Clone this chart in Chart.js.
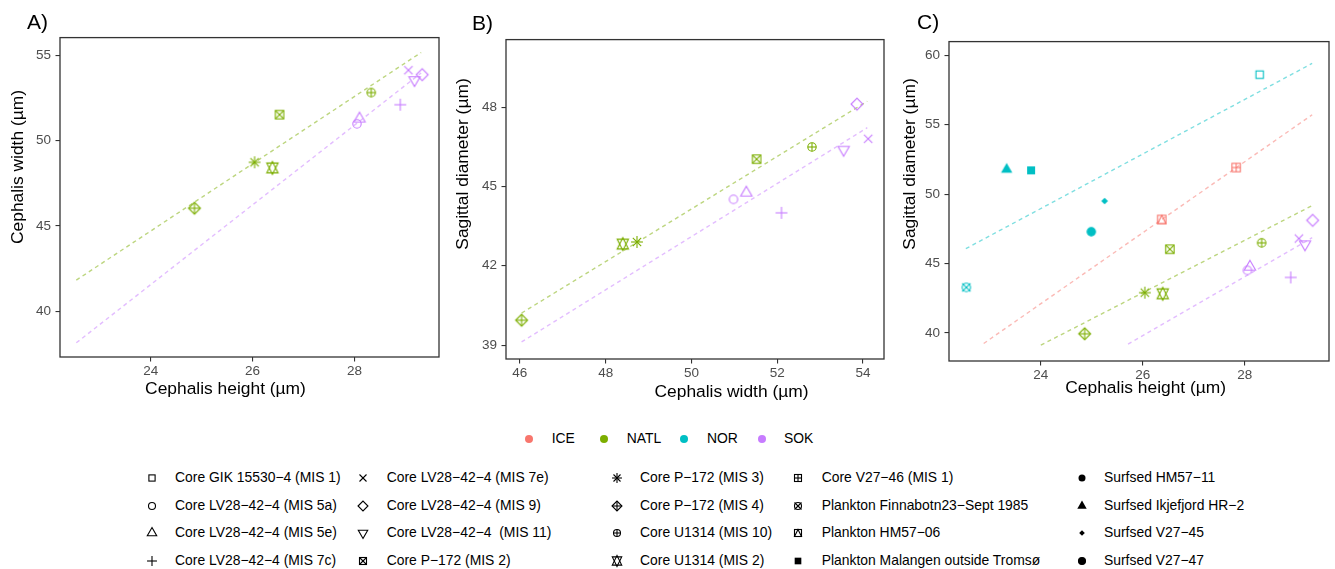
<!DOCTYPE html>
<html>
<head>
<meta charset="utf-8">
<script src="https://cdn.jsdelivr.net/npm/chart.js@4.4.1/dist/chart.umd.min.js"></script>
<style>
html, body { margin: 0; padding: 0; background: #fff; overflow: hidden; }
#fig { position: relative; width: 1335px; height: 569px; font-family: 'Liberation Sans', Arial, Helvetica, sans-serif; }
#fig canvas { position: absolute; }
.lbl { position: absolute; white-space: pre; color: #000; line-height: 1; }
.tag { font-size: 21px; transform: translateY(-50%); }
.xt { font-size: 17.4px; transform: translate(-50%, -50%); }
.yt { font-size: 17.4px; transform: translate(-50%, -50%) rotate(-90deg); }
.leg { font-size: 13.9px; transform: translateY(-50%); }
</style>
</head>
<body>
<div id="fig">
  <canvas id="panelA"></canvas>
  <canvas id="panelB"></canvas>
  <canvas id="panelC"></canvas>
</div>
<script>
// groups (colour) and samples (shape)
var groupNames = ['ICE', 'NATL', 'NOR', 'SOK'];
var groupColours = ['#F8766D', '#7CAE00', '#00BFC4', '#C77CFF'];

var sampleNames = [
    'Core GIK 15530\u22124 (MIS 1)', 'Core LV28\u221242\u22124 (MIS 5a)', 'Core LV28\u221242\u22124 (MIS 5e)',
    'Core LV28\u221242\u22124 (MIS 7c)', 'Core LV28\u221242\u22124 (MIS 7e)', 'Core LV28\u221242\u22124 (MIS 9)',
    'Core LV28\u221242\u22124  (MIS 11)', 'Core P\u2212172 (MIS 2)', 'Core P\u2212172 (MIS 3)',
    'Core P\u2212172 (MIS 4)', 'Core U1314 (MIS 10)', 'Core U1314 (MIS 2)',
    'Core V27\u221246 (MIS 1)', 'Plankton Finnabotn23\u2212Sept 1985', 'Plankton HM57\u221206',
    'Plankton Malangen outside Troms\u00f8', 'Surfsed HM57\u221211', 'Surfsed Ikjefjord HR\u22122',
    'Surfsed V27\u221245', 'Surfsed V27\u221247'
];
var sampleShapes = [0, 1, 2, 3, 4, 5, 6, 7, 8, 9, 10, 11, 12, 13, 14, 15, 16, 17, 18, 19];

// one entry per measured sample
var obsSample = [8, 9, 10, 11, 7, 1, 2, 3, 4, 5, 6, 12, 14, 0, 13, 15, 17, 18, 19];
var obsGroup = ['NATL', 'NATL', 'NATL', 'NATL', 'NATL', 'SOK', 'SOK', 'SOK', 'SOK', 'SOK', 'SOK',
    'ICE', 'ICE', 'NOR', 'NOR', 'NOR', 'NOR', 'NOR', 'NOR'];
var cephHeight = [26.04, 24.86, 28.33, 26.39, 26.53, 28.05, 28.10, 28.90, 29.06, 29.33, 29.18,
    27.83, 26.37, 28.29, 22.54, 23.81, 23.33, 25.25, 24.99];
var cephWidth = [48.73, 46.04, 52.81, 48.40, 51.52, 50.98, 51.28, 52.10, 54.12, 53.86, 53.55,
    null, null, null, null, null, null, null, null];
var sagDiam = [42.90, 39.94, 46.49, 42.82, 46.03, 44.51, 44.76, 44.00, 46.80, 48.11, 46.39,
    51.91, 48.17, 58.60, 43.28, 51.71, 51.77, 49.50, 47.29];

// fitted lines: group, x0, y0, x1, y1
var trendA = [['NATL', 22.54, 41.83, 29.31, 55.16], ['SOK', 22.54, 38.16, 29.31, 53.96]];
var trendB = [['NATL', 46.04, 40.21, 54.10, 48.22], ['SOK', 46.04, 39.12, 54.10, 47.22]];
var trendC = [['NOR', 22.53, 46.07, 29.32, 59.41], ['ICE', 22.88, 39.24, 29.32, 55.71],
    ['NATL', 24.00, 39.12, 29.32, 49.17], ['SOK', 25.71, 39.19, 29.32, 46.86]];

var ticksAx = [24, 26, 28], ticksAy = [40, 45, 50, 55];
var ticksBx = [46, 48, 50, 52, 54], ticksBy = [39, 42, 45, 48];
var ticksCx = [24, 26, 28], ticksCy = [40, 45, 50, 55, 60];

var FONT = "'Liberation Sans', Arial, Helvetica, sans-serif";

function drawShape(ctx, shape, x, y, r, col, lw) {
    var SQRC = 0.886227, TRC0 = 1.555120, TRC1 = 1.346774, TRC2 = 0.777560, S2 = Math.SQRT2;
    ctx.save();
    ctx.strokeStyle = col;
    ctx.fillStyle = col;
    ctx.lineWidth = lw;
    function line(x0, y0, x1, y1) { ctx.beginPath(); ctx.moveTo(x0, y0); ctx.lineTo(x1, y1); ctx.stroke(); }
    function poly(pts, fill) {
        ctx.beginPath();
        pts.forEach(function (p, i) { if (i) ctx.lineTo(p[0], p[1]); else ctx.moveTo(p[0], p[1]); });
        ctx.closePath();
        if (fill) ctx.fill(); else ctx.stroke();
    }
    function circ(rad, fill) { ctx.beginPath(); ctx.arc(x, y, rad, 0, 2 * Math.PI); if (fill) ctx.fill(); else ctx.stroke(); }
    function sq(h, fill) { if (fill) ctx.fillRect(x - h, y - h, 2 * h, 2 * h); else ctx.strokeRect(x - h, y - h, 2 * h, 2 * h); }
    function tri(up, fill) {
        var rr = TRC0 * r, yc = TRC2 * r, xc = TRC1 * r, s = up ? 1 : -1;
        poly([[x, y - s * rr], [x + xc, y + s * yc], [x - xc, y + s * yc]], fill);
    }
    function plus(h) { line(x - h, y, x + h, y); line(x, y - h, x, y + h); }
    function cross(h) { line(x - h, y - h, x + h, y + h); line(x - h, y + h, x + h, y - h); }
    function diamond(h, fill) { poly([[x - h, y], [x, y - h], [x + h, y], [x, y + h]], fill); }

    switch (shape) {
        case 0: sq(r * SQRC); break;
        case 1: circ(r); break;
        case 2: tri(true); break;
        case 3: plus(S2 * r); break;
        case 4: cross(r); break;
        case 5: diamond(S2 * r); break;
        case 6: tri(false); break;
        case 7: sq(r); cross(r); break;
        case 8: cross(r); plus(S2 * r); break;
        case 9: diamond(S2 * r); plus(S2 * r); break;
        case 10: circ(r); plus(r); break;
        case 11: {
            var rr = TRC0 * r, yc = 0.5 * (TRC2 * r + rr), xc = TRC1 * r;
            poly([[x, y - rr], [x + xc, y + yc], [x - xc, y + yc]]);
            poly([[x, y + rr], [x + xc, y - yc], [x - xc, y - yc]]);
            break;
        }
        case 12: sq(r); plus(r); break;
        case 13: circ(r); cross(r); break;
        case 14: sq(r); poly([[x, y - r], [x + r, y + r], [x - r, y + r]]); break;
        case 15: sq(r * 0.95, true); break;
        case 16: circ(r, true); break;
        case 17: tri(true, true); break;
        case 18: diamond(r * 0.8, true); break;
        case 19: circ(r, true); circ(r); break;
    }
    ctx.restore();
}

function makeMarker(shape, col, r) {
    var c = document.createElement('canvas');
    c.width = 24;
    c.height = 24;
    drawShape(c.getContext('2d'), shape, 12, 12, r, col, 1.1);
    return c;
}

function fade(hex, a) {
    var n = parseInt(hex.slice(1), 16);
    return 'rgba(' + (n >> 16) + ',' + ((n >> 8) & 255) + ',' + (n & 255) + ',' + a + ')';
}

var panelBox = {
    id: 'panelBox',
    afterDatasetsDraw: function (chart) {
        var a = chart.chartArea, c = chart.ctx;
        c.save();
        c.strokeStyle = '#333333';
        c.lineWidth = 1.3;
        c.strokeRect(a.left, a.top, a.right - a.left, a.bottom - a.top);
        c.restore();
    }
};

function axis(min, max, ticks, isX) {
    return {
        type: 'linear',
        position: isX ? 'bottom' : 'left',
        min: min,
        max: max,
        afterBuildTicks: function (s) { s.ticks = ticks.map(function (v) { return { value: v }; }); },
        afterFit: function (s) { if (isX) s.height = 35; else s.width = 50; },
        grid: { display: true, drawOnChartArea: false, drawTicks: true, tickLength: 4.5, color: '#333333', lineWidth: 1.1 },
        border: { display: false },
        ticks: { color: '#4D4D4D', font: { family: FONT, size: 13.5 }, padding: isX ? 1.5 : 4.5, maxRotation: 0, autoSkip: false }
    };
}

function buildPanel(id, box, xr, yr, xTicks, yTicks, xs, ys, trends) {
    var padL = 50, padT = 10, padR = 2, padB = 35;
    var cv = document.getElementById(id);
    cv.style.left = (box[0] - padL) + 'px';
    cv.style.top = (box[1] - padT) + 'px';
    cv.width = box[2] - box[0] + padL + padR;
    cv.height = box[3] - box[1] + padT + padB;

    var datasets = [];
    groupNames.forEach(function (g, gi) {
        var pts = [], styles = [];
        for (var i = 0; i < obsGroup.length; i++) {
            if (obsGroup[i] !== g || xs[i] == null || ys[i] == null) continue;
            pts.push({ x: xs[i], y: ys[i] });
            styles.push(makeMarker(sampleShapes[obsSample[i]], groupColours[gi], 4.2));
        }
        if (pts.length) {
            datasets.push({ label: g, data: pts, pointStyle: styles, pointRadius: 5 });
        }
    });
    trends.forEach(function (t) {
        var col = groupColours[groupNames.indexOf(t[0])];
        datasets.push({
            label: t[0] + ' fit',
            data: [{ x: t[1], y: t[2] }, { x: t[3], y: t[4] }],
            showLine: true,
            borderColor: fade(col, 0.5),
            borderWidth: 1.4,
            borderDash: [4, 3.5],
            pointRadius: 0
        });
    });

    return new Chart(cv, {
        type: 'scatter',
        data: { datasets: datasets },
        plugins: [panelBox],
        options: {
            responsive: false,
            animation: false,
            devicePixelRatio: 1,
            layout: { padding: { left: 0, top: padT, right: padR, bottom: 0 } },
            plugins: { legend: { display: false }, tooltip: { enabled: false } },
            scales: { x: axis(xr[0], xr[1], xTicks, true), y: axis(yr[0], yr[1], yTicks, false) }
        }
    });
}

buildPanel('panelA', [60, 35, 443, 357], [22.22, 29.66], [37.33, 56.03], ticksAx, ticksAy, cephHeight, cephWidth, trendA);
buildPanel('panelB', [506, 37, 888, 359], [45.677, 54.49], [38.475, 50.55], ticksBx, ticksBy, cephWidth, sagDiam, trendB);
buildPanel('panelC', [949, 39, 1333, 361], [22.2, 29.65], [37.98, 60.98], ticksCx, ticksCy, cephHeight, sagDiam, trendC);

// text: tags and axis titles
var fig = document.getElementById('fig');
function addText(txt, cls, x, y) {
    var d = document.createElement('div');
    d.className = 'lbl ' + cls;
    d.textContent = txt;
    d.style.left = x + 'px';
    d.style.top = y + 'px';
    fig.appendChild(d);
    return d;
}
addText('A)', 'tag', 27, 21);
addText('B)', 'tag', 472, 22);
addText('C)', 'tag', 917, 21);
addText('Cephalis height (\u00b5m)', 'xt', 225.5, 389);
addText('Cephalis width (\u00b5m)', 'xt', 731.5, 392);
addText('Cephalis height (\u00b5m)', 'xt', 1145.7, 388);
addText('Cephalis width (\u00b5m)', 'yt', 17.5, 166.5);
addText('Sagittal diameter (\u00b5m)', 'yt', 463.3, 164);
addText('Sagittal diameter (\u00b5m)', 'yt', 910, 164);

// colour legend
var colDotX = [529, 604, 684, 762], colTextX = [551.7, 626.7, 707, 784], colRowY = 439;
groupNames.forEach(function (g, i) {
    var c = document.createElement('canvas');
    c.width = 20; c.height = 20;
    c.style.left = (colDotX[i] - 10) + 'px';
    c.style.top = (colRowY - 10) + 'px';
    var ctx = c.getContext('2d');
    ctx.fillStyle = groupColours[i];
    ctx.beginPath(); ctx.arc(10, 10, 4, 0, 2 * Math.PI); ctx.fill();
    fig.appendChild(c);
    addText(g, 'leg', colTextX[i], colRowY);
});

// shape legend, 4 rows filled column by column
var legSymX = [152.3, 363.3, 617.3, 797.7, 1081.7];
var legTextX = [175, 386.7, 640, 821.7, 1104];
var legRowY = [478, 505.7, 533, 561];
sampleNames.forEach(function (name, i) {
    var col = Math.floor(i / 4), row = i % 4;
    var c = makeMarker(sampleShapes[i], '#000000', 3.5);
    c.style.left = (legSymX[col] - 12) + 'px';
    c.style.top = (legRowY[row] - 12) + 'px';
    fig.appendChild(c);
    addText(name, 'leg', legTextX[col], legRowY[row]);
});
</script>
</body>
</html>
